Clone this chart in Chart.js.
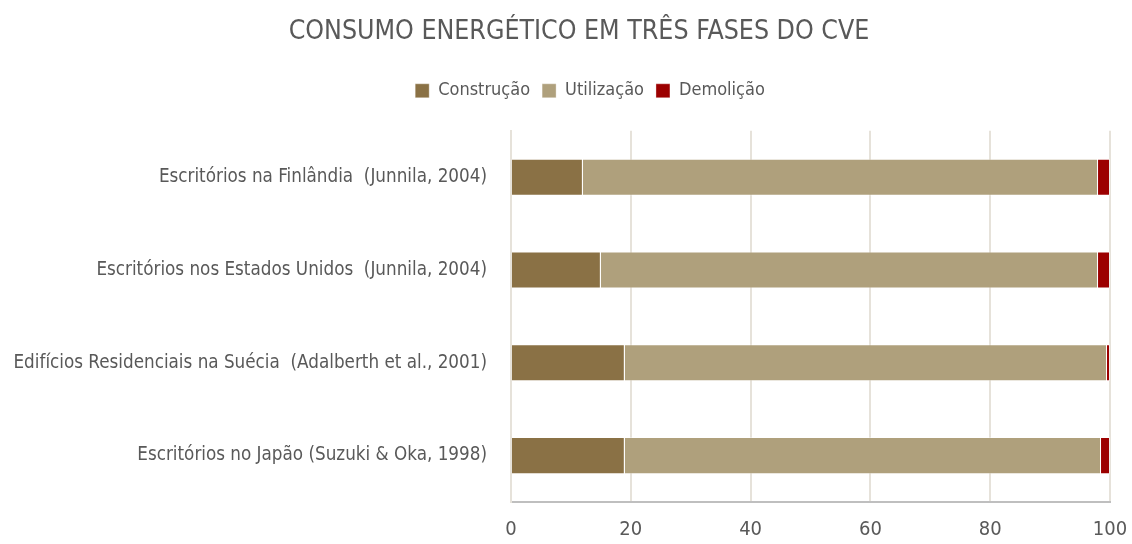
<!DOCTYPE html>
<html>
<head>
<meta charset="utf-8">
<script src="https://cdn.jsdelivr.net/npm/chart.js@4/dist/chart.umd.min.js"></script>
<style>
  html, body { margin: 0; padding: 0; background: #fff; }
  #wrap { width: 1132px; height: 544px; position: relative; }
</style>
</head>
<body>
<div id="wrap"><canvas id="bar"></canvas></div>
<script>
// values (percent of life-cycle energy)
const categories = [
    'Escritórios na Finlândia  (Junnila, 2004)',
    'Escritórios nos Estados Unidos  (Junnila, 2004)',
    'Edifícios Residenciais na Suécia  (Adalberth et al., 2001)',
    'Escritórios no Japão (Suzuki & Oka, 1998)',
];
const construcao = [12, 15, 19, 19];
const utilizacao = [86, 83, 80.5, 79.5];
const demolicao = [2, 2, 0.5, 1.5];
const xTicks = [0, 20, 40, 60, 80, 100];

const FONT = '"Liberation Sans Narrow", "DejaVu Sans Condensed", "Roboto", sans-serif';
const GREY = '#595959';

// extra space under the legend, and nudge title + legend to the right
const headerShift = {
    id: 'headerShift',
    beforeInit(chart) {
        const fit = chart.legend.fit;
        chart.legend.fit = function () {
            fit.bind(chart.legend)();
            this.height += 21;
        };
    },
    afterLayout(chart) {
        chart.titleBlock.left += 13;
        chart.titleBlock.right += 13;
        chart.legend.left += 24;
        chart.legend.right += 24;
    },
};

const ctx = document.getElementById("bar").getContext("2d");

const myBarChart = new Chart(ctx, {
    type: "bar",
    data: {
        labels: categories,
        datasets: [
            {
                label: 'Construção',
                data: construcao,
                backgroundColor: '#8A7145',
                borderColor: 'rgba(255,255,255,0.35)',
                borderWidth: 1,
            },
            {
                label: 'Utilização',
                data: utilizacao,
                backgroundColor: '#AFA07C',
                borderColor: 'rgba(255,255,255,0.35)',
                borderWidth: 1,
            },
            {
                label: 'Demolição',
                data: demolicao,
                backgroundColor: '#9C0000',
                borderColor: 'rgba(255,255,255,0.35)',
                borderWidth: 1,
            },
        ],
    },
    plugins: [headerShift],
    options: {
        indexAxis: 'y',
        responsive: true,
        maintainAspectRatio: false,
        animation: false,
        layout: {
            padding: { left: 0, right: 0, top: 6, bottom: 4 },
        },
        categoryPercentage: 1,
        barPercentage: 0.4,
        plugins: {
            title: {
                display: true,
                text: 'CONSUMO ENERGÉTICO EM TRÊS FASES DO CVE',
                color: GREY,
                font: { family: FONT, size: 26.5, weight: 'normal' },
                padding: { top: 10, bottom: 22 },
            },
            legend: {
                position: 'top',
                labels: {
                    color: GREY,
                    boxWidth: 14,
                    boxHeight: 14,
                    padding: 12,
                    font: { family: FONT, size: 18 },
                },
            },
            tooltip: { enabled: false },
        },
        scales: {
            x: {
                stacked: true,
                min: 0,
                max: 100,
                afterBuildTicks: (scale) => {
                    scale.ticks = xTicks.map((v) => ({ value: v }));
                },
                afterFit: (scale) => {
                    scale.height = 38;
                    scale.paddingRight = 22;
                },
                grid: {
                    color: '#E6E2DA',
                    lineWidth: 2,
                    drawTicks: false,
                },
                border: { color: '#BFBFBF', width: 2 },
                ticks: {
                    color: GREY,
                    padding: 16,
                    font: { family: FONT, size: 20 },
                },
            },
            y: {
                stacked: true,
                afterFit: (scale) => {
                    scale.width = 511;
                },
                grid: { display: false },
                border: { color: '#E6E2DA', width: 2 },
                ticks: {
                    color: GREY,
                    padding: 16,
                    font: { family: FONT, size: 18.7 },
                },
            },
        },
    }
});
</script>
</body>
</html>
